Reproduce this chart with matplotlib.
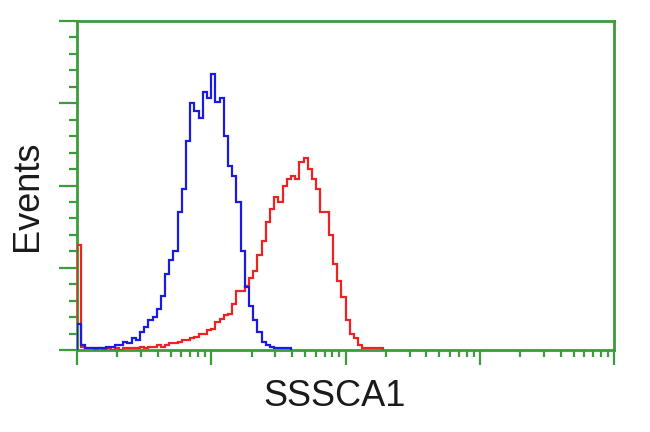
import numpy as np
import matplotlib.pyplot as plt
from matplotlib.ticker import LogLocator, MultipleLocator, NullFormatter

# histogram channels: 1/32 decade, 10^0 .. 10^4
n_chan = 128
edges = np.logspace(0, 4, n_chan + 1)

# isotype control (blue), channels 0..50
blue_counts = [16, 3, 1, 1, 1, 1, 1, 2, 2, 3, 3, 5, 4, 7, 6, 11, 14, 18, 20, 25,
               33, 46, 55, 60, 84, 98, 127, 150, 145, 141, 157, 153, 168, 151, 153,
               130, 112, 106, 90, 60, 38, 27, 18, 11, 5, 3, 2, 1, 1, 1, 1]

# SSSCA1 stained (red), channels 0..72
red_counts = [64, 2, 1, 1, 0, 1, 0, 1, 0, 1, 0, 1, 1, 1, 1, 2, 1, 2, 2, 3,
              2, 3, 4, 4, 5, 6, 6, 7, 8, 10, 10, 12, 13, 17, 19, 21, 22, 28, 36, 36,
              39, 44, 48, 58, 66, 78, 86, 93, 90, 100, 104, 106, 104, 114, 117, 110, 104, 98, 84, 84,
              70, 52, 42, 32, 18, 10, 7, 3, 1, 1, 1, 1, 1]

green = '#3c9b3c'

fig = plt.figure(figsize=(6.5, 4.32), dpi=100)
ax = fig.add_axes([77/650, 1-350/432, (614-77)/650, (350-21)/432])

# draw only the occupied channels so the empty tail doesn't paint the baseline
ax.stairs(red_counts, edges[:len(red_counts) + 1], color='#ee2222', lw=1.6)
ax.stairs(blue_counts, edges[:len(blue_counts) + 1], color='#1a1ae0', lw=1.6)

ax.set_xscale('log')
ax.set_xlim(1, 1e4)
ax.set_ylim(0, 200)

ax.xaxis.set_major_locator(LogLocator(base=10, numticks=10))
ax.xaxis.set_minor_locator(LogLocator(base=10, subs=np.arange(2, 10), numticks=20))
ax.xaxis.set_major_formatter(NullFormatter())
ax.xaxis.set_minor_formatter(NullFormatter())
ax.yaxis.set_major_locator(MultipleLocator(50))
ax.yaxis.set_minor_locator(MultipleLocator(10))
ax.yaxis.set_major_formatter(NullFormatter())

for s in ax.spines.values():
    s.set_color(green)
    s.set_linewidth(2.0)
    s.set_zorder(0.5)
ax.tick_params(axis='x', which='major', direction='out', length=11, width=1.6, color=green)
ax.tick_params(axis='x', which='minor', direction='out', length=5, width=1.6, color=green)
ax.tick_params(axis='y', which='major', direction='out', length=13, width=1.6, color=green)
ax.tick_params(axis='y', which='minor', direction='out', length=6, width=1.6, color=green)
ax.tick_params(top=False, right=False)

fig.text(335/650, 1-396/432, 'SSSCA1', fontsize=26, family='Liberation Sans',
         color='#1a1a1a', ha='center', va='center')
fig.text(27/650, 1-196/432, 'Events', fontsize=26, family='Liberation Sans',
         color='#1a1a1a', ha='center', va='center', rotation=90)

fig.savefig('out.png', dpi=100)
